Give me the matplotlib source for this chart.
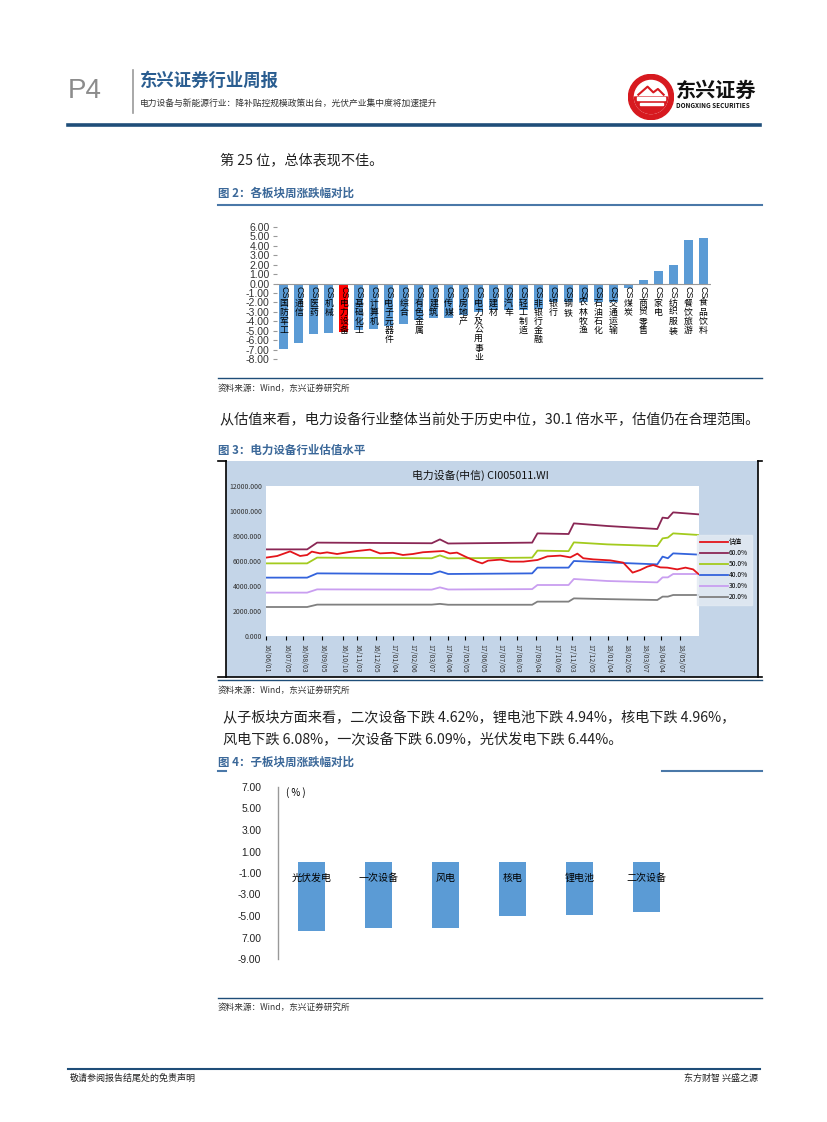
import numpy as np
import pandas as pd
import matplotlib
matplotlib.use('Agg')
import matplotlib.pyplot as plt
from matplotlib.patches import Rectangle, Circle, Wedge
from matplotlib.lines import Line2D

plt.rcParams['font.family'] = ['Noto Sans CJK SC', 'DejaVu Sans']
plt.rcParams['axes.unicode_minus'] = False

W, H = 827, 1122

########################################################################
# data : figure 2, sector weekly change (%)
sectors = ['国防军工', '通信', '医药', '机械', '电力设备', '基础化工', '计算机', '电子元器件',
           '综合', '有色金属', '建筑', '传媒', '房地产', '电力及公用事业', '建材', '汽车',
           '轻工制造', '非银行金融', '银行', '钢铁', '农林牧渔', '石油石化', '交通运输', '煤炭',
           '商贸零售', '家电', '纺织服装', '餐饮旅游', '食品饮料']
sector_chg = [-6.97, -6.29, -5.34, -5.23, -5.12, -4.95, -4.80, -4.45,
              -4.30, -3.85, -3.60, -3.60, -3.35, -3.00, -2.85, -2.80,
              -2.75, -2.70, -2.00, -2.00, -2.00, -2.00, -1.95, -0.46,
              0.42, 1.38, 2.00, 4.67, 4.88]
highlight = '电力设备'

# data : figure 3, valuation (PE) and percentile bands
band_dates = ['2016-06-01', '2016-08-10', '2016-08-27', '2017-03-10', '2017-03-24', '2017-04-07',
              '2017-08-28', '2017-09-06', '2017-10-29', '2017-11-07', '2018-01-03', '2018-03-29',
              '2018-04-07', '2018-04-16', '2018-04-25', '2018-06-08']
p60 = [6930, 6930, 7470, 7420, 7730, 7400, 7470, 8210, 8160, 9010, 8800, 8560, 9470, 9420, 9890, 9730]
p50 = [5810, 5810, 6270, 6220, 6450, 6210, 6270, 6830, 6790, 7490, 7330, 7200, 7810, 7870, 8210, 8080]
p40 = [4670, 4670, 5010, 4960, 5170, 4960, 5010, 5470, 5470, 6000, 5890, 5730, 6350, 6220, 6610, 6510]
p30 = [3470, 3470, 3730, 3710, 3890, 3720, 3750, 4080, 4080, 4560, 4400, 4290, 4690, 4690, 4960, 4960]
p20 = [2320, 2320, 2510, 2510, 2570, 2500, 2500, 2750, 2750, 3010, 2950, 2880, 3150, 3150, 3280, 3280]

pe_dates = ['2016-06-01', '2016-06-20', '2016-07-12', '2016-07-29', '2016-08-10', '2016-08-18',
            '2016-09-01', '2016-09-13', '2016-09-30', '2016-10-17', '2016-11-03', '2016-11-25',
            '2016-12-12', '2017-01-03', '2017-01-20', '2017-02-06', '2017-02-23', '2017-03-12',
            '2017-03-30', '2017-04-10', '2017-04-22', '2017-05-09', '2017-05-26', '2017-06-04',
            '2017-06-14', '2017-07-05', '2017-07-22', '2017-08-13', '2017-09-06', '2017-09-23',
            '2017-10-15', '2017-11-01', '2017-11-13', '2017-11-23', '2017-12-10', '2018-01-08',
            '2018-01-30', '2018-02-15', '2018-02-28', '2018-03-12', '2018-03-22', '2018-04-03',
            '2018-04-15', '2018-05-02', '2018-05-16', '2018-05-29', '2018-06-07']
pe = [6270, 6400, 6770, 6400, 6480, 6750, 6610, 6690, 6560, 6690, 6800, 6910,
      6610, 6660, 6480, 6560, 6700, 6750, 6800, 6610, 6670, 6290, 5950, 5810,
      6030, 6110, 5950, 5950, 6080, 6370, 6430, 6290, 6590, 6220, 6130, 6050,
      5870, 5070, 5280, 5550, 5680, 5490, 5470, 5330, 5470, 5330, 4960]

xtick_dates = ['2016-06-01', '2016-07-05', '2016-08-03', '2016-09-05', '2016-10-10', '2016-11-03',
               '2016-12-05', '2017-01-04', '2017-02-06', '2017-03-07', '2017-04-06', '2017-05-05',
               '2017-06-05', '2017-07-05', '2017-08-03', '2017-09-04', '2017-10-09', '2017-11-03',
               '2017-12-05', '2018-01-04', '2018-02-05', '2018-03-07', '2018-04-04', '2018-05-07']
yticks3 = [0, 2000, 4000, 6000, 8000, 10000, 12000]

# data : figure 4, sub-sector weekly change (%)
subsectors = ['光伏发电', '一次设备', '风电', '核电', '锂电池', '二次设备']
sub_chg = [-6.44, -6.09, -6.08, -4.96, -4.94, -4.62]
yticks4 = [7, 5, 3, 1, -1, -3, -5, -7, -9]
yticks4_lbl = ['7.00', '5.00', '3.00', '1.00', '-1.00', '-3.00', '-5.00', '7.00', '-9.00']

########################################################################
fig = plt.figure(figsize=(W / 100, H / 100), dpi=100)


def fx(x):
    return x / W


def fy(y):
    return 1 - y / H


def rect(x0, y0, x1, y1):
    return [x0 / W, 1 - y1 / H, (x1 - x0) / W, (y1 - y0) / H]


def hline(x0, x1, y, color, lw):
    fig.add_artist(Line2D([fx(x0), fx(x1)], [fy(y), fy(y)], color=color, lw=lw))


def vline(x, y0, y1, color, lw):
    fig.add_artist(Line2D([fx(x), fx(x)], [fy(y0), fy(y1)], color=color, lw=lw))


def txt(x, y, s, **kw):
    fig.text(fx(x), fy(y), s, **kw)


navy = '#1f4e79'
head_blue = '#3b6899'
body = '#222222'

######################################################################
# page header
txt(68, 91, 'P4', fontsize=20, color='#8c8c8c', va='center', family='Liberation Sans')
vline(133, 70, 113, '#9a9a9a', 1.2)
txt(140, 81, '东兴证券行业周报', fontsize=12.5, color='#2a5d90', fontweight='bold', va='center')
txt(140, 103, '电力设备与新能源行业：降补贴控规模政策出台，光伏产业集中度将加速提升',
    fontsize=6.3, color='#333333', va='center')

# logo
axl = fig.add_axes(rect(628, 74, 674, 120))
axl.set_xlim(-1, 1)
axl.set_ylim(-1, 1)
axl.set_aspect('equal')
axl.axis('off')
axl.add_patch(Circle((0, 0), 0.98, color='#d7191f'))
axl.add_patch(Circle((0, 0), 0.72, color='white'))
axl.add_patch(Wedge((0, 0), 0.72, 180, 360, color='#d7191f'))
axl.add_patch(Rectangle((-0.6, -0.12), 1.2, 0.1, color='white'))
axl.add_patch(Rectangle((-0.5, -0.34), 1.0, 0.1, color='white'))
axl.plot([-0.55, -0.15, 0.1, 0.3, 0.55], [0.1, 0.45, 0.2, 0.35, 0.1], color='#d7191f', lw=1.5)
txt(676, 90, '东兴证券', fontsize=14.5, fontweight='bold', color='#111111', va='center')
txt(676, 106, 'DONGXING SECURITIES', fontsize=4.6, fontweight='bold', color='#111111', va='center')

hline(68, 760, 125, navy, 2.6)

######################################################################
# body text
txt(220, 160, '第 25 位，总体表现不佳。', fontsize=10.2, color=body, va='center')
txt(218, 193, '图 2：各板块周涨跌幅对比', fontsize=8.3, color=head_blue, fontweight='bold', va='center')
hline(218, 762, 205, '#4a78a8', 1.5)

# figure 2
ax2 = fig.add_axes(rect(276.5, 227, 710.5, 359))
xs = np.arange(len(sectors))
colors = ['#ff0000' if s == highlight else '#5b9bd5' for s in sectors]
ax2.bar(xs, sector_chg, width=0.6, color=colors, zorder=2)
ax2.set_xlim(-0.5, len(sectors) - 0.5)
ax2.set_ylim(-8, 6)
ax2.set_yticks(np.arange(-8, 7, 1))
ax2.set_yticklabels(['%.2f' % v for v in np.arange(-8, 7, 1)], fontsize=7.6, color='#333333',
                    family='Liberation Sans')
ax2.tick_params(axis='y', length=3, color='#999999', pad=2)
ax2.set_xticks([])
for sp in ax2.spines.values():
    sp.set_visible(False)
ax2.axhline(0, color='#999999', lw=0.8, zorder=3)
for i, name in enumerate(sectors):
    ax2.text(i, -0.3, 'CS', rotation=-90, ha='center', va='top', fontsize=6.4, color='black',
             family='Liberation Sans', zorder=4)
    for k, ch in enumerate(name):
        ax2.text(i, -1.6 - k * 0.96, ch, ha='center', va='top', fontsize=6.4, color='black', zorder=4)

hline(218, 762, 378, navy, 1.0)
txt(218, 388, '资料来源：Wind，东兴证券研究所', fontsize=6.2, color='#333333', va='center', style='italic')

txt(220, 420, '从估值来看，电力设备行业整体当前处于历史中位，30.1 倍水平，估值仍在合理范围。',
    fontsize=10.2, color=body, va='center')
txt(218, 450, '图 3：电力设备行业估值水平', fontsize=8.3, color=head_blue, fontweight='bold', va='center')

# figure 3 frame
fig.add_artist(Rectangle((fx(226), fy(677)), (758 - 226) / W, (677 - 461) / H,
                         transform=fig.transFigure, facecolor='#c4d5e8', edgecolor='none', zorder=-1))
vline(226, 461, 677, 'black', 1.2)
vline(758, 461, 677, 'black', 1.2)
hline(218, 762, 677, 'black', 1.2)
hline(218, 226, 461, 'black', 1.2)
hline(758, 762, 461, 'black', 1.2)
txt(480, 475, '电力设备(中信) CI005011.WI', fontsize=7.8, color='#111111', ha='center', va='center')

ax3 = fig.add_axes(rect(266, 486, 699, 636))
ax3.set_zorder(2)
bd = pd.to_datetime(band_dates)
ax3.plot(pd.to_datetime(pe_dates), pe, color='#e3151b', lw=1.3, label='估值', zorder=6)
ax3.plot(bd, p60, color='#8a2755', lw=1.3, label='60.0%')
ax3.plot(bd, p50, color='#a3cb1e', lw=1.3, label='50.0%')
ax3.plot(bd, p40, color='#3363dc', lw=1.3, label='40.0%')
ax3.plot(bd, p30, color='#c99ef0', lw=1.3, label='30.0%')
ax3.plot(bd, p20, color='#808080', lw=1.3, label='20.0%')
ax3.set_xlim(pd.Timestamp('2016-06-01'), pd.Timestamp('2018-06-08'))
ax3.set_ylim(0, 12000)
ax3.set_yticks(yticks3)
ax3.set_yticklabels(['%.3f' % v for v in yticks3], fontsize=5, color='#333333')
xt = pd.to_datetime(xtick_dates)
ax3.set_xticks(xt)
ax3.set_xticklabels([d.strftime('%y/%m/%d') for d in xt], rotation=-90, fontsize=5, color='#333333')
ax3.tick_params(axis='x', length=3, color='black', pad=3)
ax3.tick_params(axis='y', length=0, pad=3)
for sp in ax3.spines.values():
    sp.set_visible(False)
leg = ax3.legend(loc='upper left', bbox_to_anchor=(fx(697), fy(535)), bbox_transform=fig.transFigure,
                 fontsize=4.8, frameon=True, fancybox=False, handlelength=4.2, labelspacing=0.45,
                 borderpad=0.5, handletextpad=0.1, borderaxespad=0)
leg.get_frame().set_facecolor('#e4ebf3')
leg.get_frame().set_edgecolor('#e4ebf3')

hline(218, 762, 680, navy, 1.0)
txt(218, 690, '资料来源：Wind，东兴证券研究所', fontsize=6.2, color='#333333', va='center', style='italic')

txt(223, 718, '从子板块方面来看，二次设备下跌 4.62%，锂电池下跌 4.94%，核电下跌 4.96%，',
    fontsize=10.2, color=body, va='center')
txt(223, 740, '风电下跌 6.08%，一次设备下跌 6.09%，光伏发电下跌 6.44%。',
    fontsize=10.2, color=body, va='center')
txt(218, 762, '图 4：子板块周涨跌幅对比', fontsize=8.3, color=head_blue, fontweight='bold', va='center')
hline(218, 226, 771, '#4a78a8', 1.5)
hline(662, 762, 771, '#4a78a8', 1.5)

# figure 4
ax4 = fig.add_axes(rect(278, 787, 680, 959))
x4 = np.arange(len(subsectors))
ax4.bar(x4, sub_chg, width=0.4, color='#5b9bd5', zorder=2)
ax4.set_xlim(-0.5, len(subsectors) - 0.5)
ax4.set_ylim(-9, 7)
ax4.set_yticks(yticks4)
ax4.set_yticklabels(yticks4_lbl, fontsize=7.4, color='#222222', family='Liberation Sans')
ax4.tick_params(axis='y', length=0, pad=12)
ax4.set_xticks([])
for side in ['top', 'right', 'bottom']:
    ax4.spines[side].set_visible(False)
ax4.spines['left'].set_color('#999999')
ax4.spines['left'].set_linewidth(1.0)
for i, name in enumerate(subsectors):
    ax4.text(i, -1.45, name, ha='center', va='center', fontsize=7.2, color='black', zorder=4)
ax4.text(0.02, 1.0, '( % )', transform=ax4.transAxes, ha='left', va='top', fontsize=7, color='black')

hline(218, 762, 998, navy, 1.0)
txt(218, 1007, '资料来源：Wind，东兴证券研究所', fontsize=6.2, color='#333333', va='center', style='italic')

######################################################################
# footer
hline(68, 760, 1069, navy, 1.5)
txt(70, 1078, '敬请参阅报告结尾处的免责声明', fontsize=6.5, color='#222222', va='center')
txt(758, 1078, '东方财智 兴盛之源', fontsize=6.5, color='#222222', va='center', ha='right')

fig.savefig('out.png', dpi=100, facecolor='white')
